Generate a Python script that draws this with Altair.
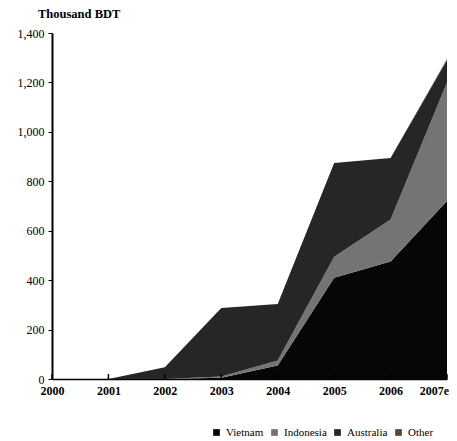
import altair as alt
import pandas as pd

years = [2000, 2001, 2002, 2003, 2004, 2005, 2006, 2007]
year_labels = ["2000", "2001", "2002", "2003", "2004", "2005", "2006", "2007e"]
series = ["Vietnam", "Indonesia", "Australia", "Other"]
vietnam = [0, 0, 0, 5, 55, 410, 475, 720]
indonesia = [0, 0, 0, 5, 20, 85, 170, 480]
australia = [0, 0, 48, 277, 228, 379, 249, 90]
other = [0, 0, 0, 0, 0, 0, 0, 5]
colors = ["#060606", "#747474", "#262626", "#4a4a4a"]

rows = []
for i, y in enumerate(years):
    for k, (name, vals) in enumerate(zip(series, [vietnam, indonesia, australia, other])):
        rows.append({"year": y, "series": name, "value": vals[i], "order": k})
df = pd.DataFrame(rows)
ticks_df = pd.DataFrame({"year": years})

serif = "Liberation Serif"

area = alt.Chart(df).mark_area(opacity=1).encode(
    x=alt.X("year:Q", scale=alt.Scale(domain=[2000, 2007], nice=False, zero=False),
            axis=alt.Axis(values=years, title=None, labelExpr="datum.value == 2007 ? '2007e' : '' + datum.value",
                          ticks=False, domainColor="black", domainWidth=1.5, labelFlush=False,
                          labelOffset={"condition": {"test": "datum.value == 2007", "value": -13}, "value": 0},
                          labelFont=serif, labelFontSize=12, labelFontWeight="bold", labelColor="black",
                          labelPadding=6, grid=False)),
    y=alt.Y("value:Q", stack="zero", scale=alt.Scale(domain=[0, 1400], nice=False),
            axis=alt.Axis(values=[0, 200, 400, 600, 800, 1000, 1200, 1400], format=",d", title=None,
                          tickSize=4, tickColor="black", domainColor="black", domainWidth=2,
                          labelFont=serif, labelFontSize=12, labelColor="black", labelPadding=4,
                          grid=False)),
    color=alt.Color("series:N", sort=series,
                    scale=alt.Scale(domain=series, range=colors),
                    legend=alt.Legend(title=None, orient="none", direction="horizontal",
                                      legendX=159, legendY=394, symbolType="square", symbolSize=45,
                                      symbolStrokeWidth=0, labelFont=serif, labelFontSize=11,
                                      labelColor="black", columnPadding=5, labelOffset=4,
                                      symbolOpacity=1, gridAlign="none")),
    order=alt.Order("order:Q"),
)

xticks = alt.Chart(ticks_df).mark_rule(color="black", strokeWidth=1.5).encode(
    x=alt.X("year:Q"),
    y=alt.value(346),
    y2=alt.value(341),
)

chart = alt.layer(area, xticks).properties(
    width=395, height=346,
    title=alt.TitleParams("Thousand BDT", anchor="start", frame="group", dx=-14, offset=7,
                          font=serif, fontSize=12.5, fontWeight="bold", color="black"),
    autosize=alt.AutoSizeParams(type="none"),
    padding={"left": 44, "top": 25, "right": 2, "bottom": 60},
).configure_view(stroke=None)

chart.save("out.html", embed_options={"renderer": "svg", "actions": False})
